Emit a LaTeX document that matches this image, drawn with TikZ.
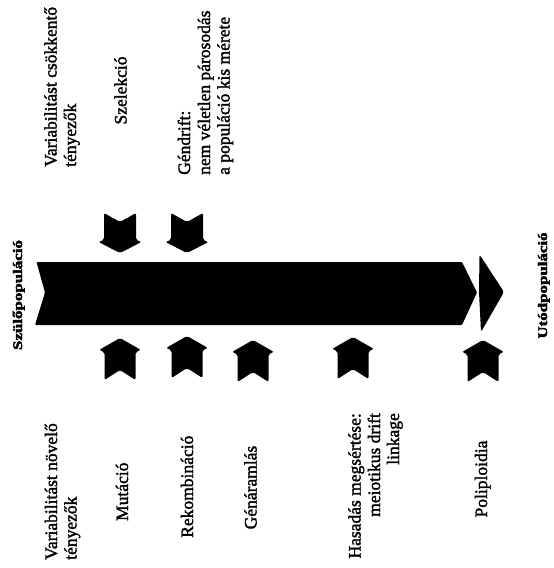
\documentclass[tikz,border=0pt]{standalone}
\usepackage{fontspec}
\setmainfont{Liberation Serif}
\newfontfamily\scanfont{Liberation Serif}[FakeBold=1.8]
\newfontfamily\scanbold{Liberation Serif Bold}[FakeBold=3]
\begin{document}
\begin{tikzpicture}[x=1pt,y=-1pt,
  lbl/.style={rotate=90,inner sep=0pt,font=\scanfont\fontsize{17.5}{20}\selectfont},
  poplbl/.style={rotate=90,inner sep=0pt,font=\scanbold\fontsize{13}{15}\selectfont},
  downchev/.pic={\fill[rounded corners=2pt] (-16,0) -- (0,9) -- (16,0) -- (16,27) -- (21.5,29) -- (0,40) -- (-21.5,29) -- (-16,27) -- cycle;},
  upchev/.pic={\fill[rounded corners=2pt] (0,0) -- (21,12) -- (15.5,14) -- (15.5,42) -- (0,32) -- (-15.5,42) -- (-15.5,14) -- (-21,12) -- cycle;}
]
\useasboundingbox (0,0) rectangle (554,568);

% main band and arrow head
\fill[rounded corners=1pt] (36.5,262) -- (462,262) -- (477,292.5) -- (462,325) -- (35,325) -- (45,292.5) -- cycle;
\fill[rounded corners=2.5pt] (479.5,254.5) -- (504,292) -- (481,332) -- (479,292) -- cycle;

% population labels
\node[poplbl,anchor=base] (szulo) at (22,295) {\scalebox{1.3}[1]{Szülőpopuláció}};
\node[poplbl,anchor=base] (utod) at (547,285.5) {\scalebox{1.3}[1]{Utódpopuláció}};

% chevrons above (decreasing variability)
\pic at (120,213) {downchev};
\pic at (187,213) {downchev};

% chevrons below (increasing variability)
\pic at (120,338) {upchev};
\pic at (187,336) {upchev};
\pic at (253,340) {upchev};
\pic at (353,337) {upchev};
\pic at (483,340) {upchev};

% upper labels
\node[lbl,anchor=base west] (vc1) at (56.5,167) {Variabilitást csökkentő};
\node[lbl,anchor=base west] (vc2) at (76,167) {tényezők};
\node[lbl,anchor=base] (szel) at (126.5,90.5) {Szelekció};
\node[lbl,anchor=base west] (gd1) at (190,175) {Géndrift:};
\node[lbl,anchor=base west] (gd2) at (210,175) {nem véletlen párosodás};
\node[lbl,anchor=base west] (gd3) at (229.5,175) {a populáció kis mérete};

% lower labels
\node[lbl,anchor=base west] (vn1) at (57,560) {Variabilitást növelő};
\node[lbl,anchor=base west] (vn2) at (76.5,560) {tényezők};
\node[lbl,anchor=base] (mut) at (128,491.7) {Mutáció};
\node[lbl,anchor=base] (rek) at (193,486.7) {Rekombináció};
\node[lbl,anchor=base] (gen) at (256.5,487.5) {Génáramlás};
\node[lbl,anchor=base east] (has1) at (360.5,413) {Hasadás megsértése:};
\node[lbl,anchor=base east] (has2) at (380,413) {meiotikus drift};
\node[lbl,anchor=base east] (has3) at (399,413) {linkage};
\node[lbl,anchor=base] (pol) at (487,479) {Poliploidia};
\end{tikzpicture}
\end{document}
